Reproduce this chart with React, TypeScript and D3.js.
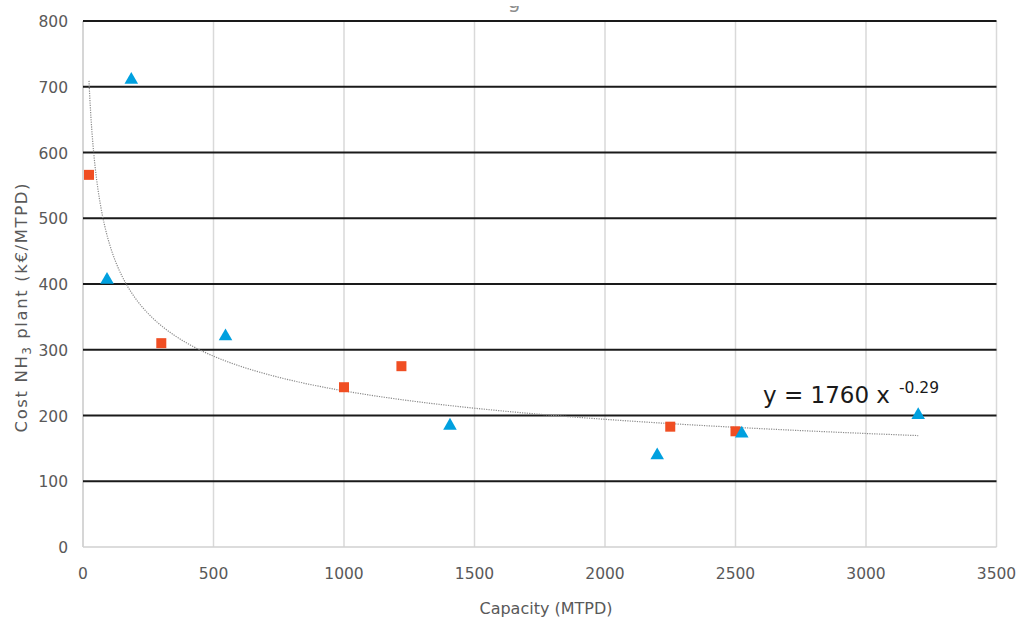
import React from "react";
import * as d3 from "d3";

const W = 1019;
const H = 621;

// Series 1: red squares (capacity MTPD, cost k€/MTPD)
const squaresX = [23, 300, 1000, 1220, 2250, 2500];
const squaresY = [566, 310, 243, 275, 183, 176];

// Series 2: blue triangles
const trianglesX = [185, 92, 546, 1406, 2200, 2524, 3200];
const trianglesY = [712, 408, 322, 186, 141, 174, 202];

// Power trendline y = a * x^b
const trendA = 1760;
const trendB = -0.29;
const trendXMin = 23;
const trendXMax = 3200;

const xTicks = [0, 500, 1000, 1500, 2000, 2500, 3000, 3500];
const yTicks = [0, 100, 200, 300, 400, 500, 600, 700, 800];

const xLabel = "Capacity (MTPD)";
const equationMain = "y = 1760 x";
const equationExp = "-0.29";

export default function App() {
  const left = 83;
  const right = 996.5;
  const top = 21;
  const bottom = 547;

  const x = d3.scaleLinear().domain([0, 3500]).range([left, right]);
  const y = d3.scaleLinear().domain([0, 800]).range([bottom, top]);

  const trendXs = d3.range(0, 301).map(
    (i) => trendXMin * Math.pow(trendXMax / trendXMin, i / 300)
  );
  const trendLine = d3
    .line<number>()
    .x((d) => x(d))
    .y((d) => y(trendA * Math.pow(d, trendB)))(trendXs);

  const tri = d3.symbol().type(d3.symbolTriangle).size(80)();

  const font = "DejaVu Sans, Verdana, sans-serif";

  return (
    <svg
      width={W}
      height={H}
      style={{ position: "absolute", left: 0, top: 0, background: "#fff" }}
      fontFamily={font}
    >
      <defs>
        <clipPath id="titleClip">
          <rect x={490} y={6} width={50} height={10} />
        </clipPath>
      </defs>
      <rect x={0} y={0} width={W} height={H} fill="#fff" />
      {/* cut-off title remnant */}
      <g clipPath="url(#titleClip)">
        <text x={514} y={8} fontSize={20} fill="#8c8c8c" textAnchor="middle">
          g
        </text>
      </g>

      {/* vertical gridlines */}
      {xTicks.map((t) => (
        <line
          key={"vx" + t}
          x1={x(t)}
          x2={x(t)}
          y1={top}
          y2={bottom}
          stroke={t === 0 ? "#c8c8c8" : "#d9d9d9"}
          strokeWidth={1.5}
        />
      ))}
      {/* horizontal gridlines */}
      {yTicks.map((t) => (
        <line
          key={"hy" + t}
          x1={left}
          x2={right}
          y1={y(t)}
          y2={y(t)}
          stroke={t === 0 ? "#d0d0d0" : "#1a1a1a"}
          strokeWidth={t === 0 ? 1.5 : 1.8}
        />
      ))}

      {/* trendline */}
      <path
        d={trendLine || ""}
        fill="none"
        stroke="#8a8a8a"
        strokeWidth={1.2}
        strokeDasharray="1.2 1.2"
      />

      {/* squares */}
      {squaresX.map((v, i) => (
        <rect
          key={"s" + i}
          x={x(v) - 5}
          y={y(squaresY[i]) - 5}
          width={10}
          height={10}
          fill="#F04E23"
        />
      ))}
      {/* triangles */}
      {trianglesX.map((v, i) => (
        <path
          key={"t" + i}
          d={tri || ""}
          transform={`translate(${x(v)},${y(trianglesY[i]) + 1})`}
          fill="#00A0DF"
        />
      ))}

      {/* y tick labels */}
      {yTicks.map((t) => (
        <text
          key={"yl" + t}
          x={68}
          y={y(t) + 6}
          fontSize={15.5}
          fill="#595959"
          textAnchor="end"
        >
          {t}
        </text>
      ))}
      {/* x tick labels */}
      {xTicks.map((t) => (
        <text
          key={"xl" + t}
          x={x(t)}
          y={579}
          fontSize={15.5}
          fill="#595959"
          textAnchor="middle"
        >
          {t}
        </text>
      ))}

      {/* axis titles */}
      <text
        x={546}
        y={614}
        fontSize={16}
        fill="#595959"
        textAnchor="middle"
      >
        {xLabel}
      </text>
      <text
        transform={`translate(27,308) rotate(-90)`}
        fontSize={16.5}
        fill="#595959"
        textAnchor="middle"
        textLength={249}
        lengthAdjust="spacing"
      >
        Cost NH
        <tspan fontSize={11.5} dy={4}>
          3
        </tspan>
        <tspan dy={-4}> plant (k€/MTPD)</tspan>
      </text>

      {/* equation */}
      <text x={763} y={403} fontSize={23} fill="#1a1a1a">
        {equationMain}
        <tspan fontSize={15.5} dx={9} dy={-10}>
          {equationExp}
        </tspan>
      </text>
    </svg>
  );
}
